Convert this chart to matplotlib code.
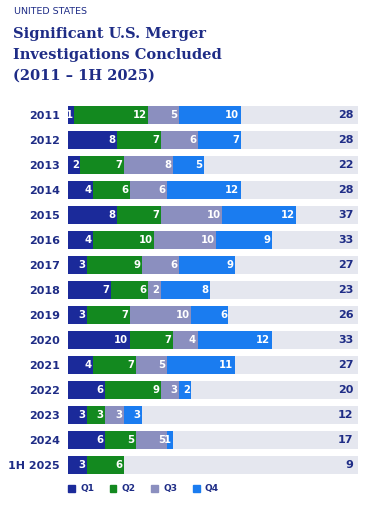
import matplotlib
matplotlib.use("Agg")
import matplotlib.pyplot as plt
import numpy as np
from matplotlib.patches import Patch

years = ["2011", "2012", "2013", "2014", "2015", "2016", "2017", "2018",
         "2019", "2020", "2021", "2022", "2023", "2024", "1H 2025"]
q1 = [1, 8, 2, 4, 8, 4, 3, 7, 3, 10, 4, 6, 3, 6, 3]
q2 = [12, 7, 7, 6, 7, 10, 9, 6, 7, 7, 7, 9, 3, 5, 6]
q3 = [5, 6, 8, 6, 10, 10, 6, 2, 10, 4, 5, 3, 3, 5, 0]
q4 = [10, 7, 5, 12, 12, 9, 9, 8, 6, 12, 11, 2, 3, 1, 0]
totals = [28, 28, 22, 28, 37, 33, 27, 23, 26, 33, 27, 20, 12, 17, 9]
quarters = ["Q1", "Q2", "Q3", "Q4"]

colors = ["#1b2a9a", "#13891f", "#8b8fbf", "#1a7cf0"]
navy = "#1e2c86"
bg = "#e5e7ef"

fig = plt.figure(figsize=(3.66, 5.05), dpi=100)
ax = fig.add_axes([68 / 366, 1 - 477.5 / 505, 290 / 366, 375 / 505])

y = np.arange(len(years))
ax.barh(y, [47] * len(years), height=0.72, color=bg, zorder=0)

left = np.zeros(len(years))
for vals, c in zip([q1, q2, q3, q4], colors):
    vals = np.array(vals)
    ax.barh(y, vals, left=left, height=0.72, color=c, linewidth=0, zorder=2)
    for i, v in enumerate(vals):
        if v > 0:
            ax.text(left[i] + v - 0.25, y[i], str(v), ha="right", va="center",
                    color="white", fontsize=7.3, fontweight="bold", zorder=3)
    left += vals

for i, t in enumerate(totals):
    ax.text(46.3, y[i], str(t), ha="right", va="center", color=navy,
            fontsize=8, fontweight="bold")

ax.set_xlim(0, 47)
ax.set_ylim(len(years) - 0.5, -0.5)
ax.set_yticks(y)
ax.set_yticklabels(years, fontsize=8, fontweight="bold", color=navy)
ax.tick_params(axis="y", length=0, pad=6)
ax.set_xticks([])
for s in ax.spines.values():
    s.set_visible(False)

handles = [Patch(color=c, label=q) for c, q in zip(colors, quarters)]
leg = fig.legend(handles=handles, ncol=4, loc="center left",
                 bbox_to_anchor=(60 / 366, 1 - 489 / 505), frameon=False,
                 handlelength=0.75, handleheight=0.75, handletextpad=0.6,
                 columnspacing=1.7, prop={"size": 6.5, "weight": "bold"})
for t in leg.get_texts():
    t.set_color(navy)

fig.text(14 / 366, 1 - 11 / 505, "UNITED STATES", fontsize=6.8, color=navy,
         va="center", ha="left")
fig.text(13 / 366, 1 - 27 / 505,
         "Significant U.S. Merger\nInvestigations Concluded\n(2011 \u2013 1H 2025)",
         fontsize=10.5, fontweight="bold", family="DejaVu Serif", color=navy,
         va="top", ha="left", linespacing=1.6)

fig.savefig("out.png", dpi=100)
